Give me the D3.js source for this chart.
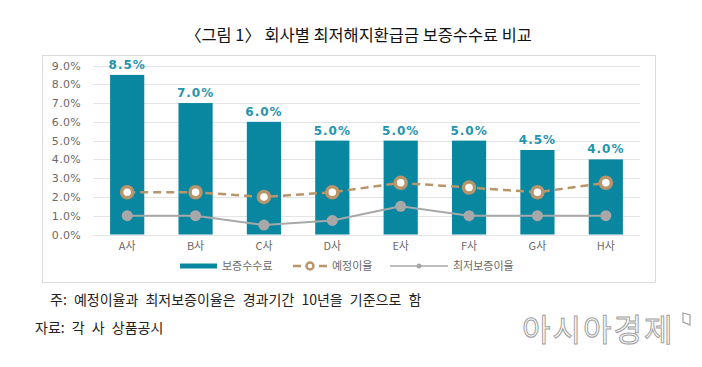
<!DOCTYPE html>
<html><head><meta charset="utf-8">
<script src="https://cdn.jsdelivr.net/npm/d3@7"></script>
<style>
body{margin:0;background:#fff;}
svg{display:block;}
</style></head>
<body><svg id="c" width="702" height="367"></svg>
<script>
const categories = ["A사","B사","C사","D사","E사","F사","G사","H사"];
const feeValues = [8.5, 7.0, 6.0, 5.0, 5.0, 5.0, 4.5, 4.0];
const expectedRate = [2.25, 2.25, 2.0, 2.25, 2.75, 2.5, 2.25, 2.75];
const minGuaranteeRate = [1.0, 1.0, 0.5, 0.75, 1.5, 1.0, 1.0, 1.0];
const yTicks = [0,1,2,3,4,5,6,7,8,9];
const seriesNames = ["보증수수료","예정이율","최저보증이율"];
const title = "〈그림 1〉 회사별 최저해지환급금 보증수수료 비교";
const note1 = "주: 예정이율과 최저보증이율은 경과기간 10년을 기준으로 함";
const note2 = "자료: 각 사 상품공시";
const watermark = "아시아경제";

const KR = "'Noto Sans CJK KR','Noto Sans',sans-serif";
const NUM = "'DejaVu Sans',sans-serif";
const teal = "#0a87a0", tan = "#b8956b", gray = "#a8a8a8";

const svg = d3.select("#c");
const x = d3.scaleBand().domain(categories).range([93, 640]).paddingInner(0.5).paddingOuter(0.25);
const y = d3.scaleLinear().domain([0, 9]).range([234.5, 65.5]);

// title
svg.append("text").attr("x", 358.5).attr("y", 41).attr("text-anchor","middle")
  .attr("font-family", KR).attr("font-size", 16.4).attr("fill","#111").text(title);

// frame
svg.append("rect").attr("x",42.5).attr("y",55.5).attr("width",613).attr("height",227)
  .attr("fill","none").attr("stroke","#d9d9d9");

// grid
svg.append("g").selectAll("line").data(yTicks).join("line")
  .attr("x1",93).attr("x2",640).attr("y1",d=>Math.round(y(d))+0.5).attr("y2",d=>Math.round(y(d))+0.5)
  .attr("stroke","#e3e3e3").attr("stroke-width",1);

// y axis
const yAxis = d3.axisLeft(y).tickValues(yTicks).tickFormat(d=>d.toFixed(1)+"%").tickSize(0).tickPadding(0);
const ya = svg.append("g").attr("transform","translate(81,0)").call(yAxis);
ya.select(".domain").remove();
ya.selectAll("text").attr("font-family",NUM).attr("font-size",11).attr("fill","#6a6a6a").attr("letter-spacing","0.3");

// x axis
const xAxis = d3.axisBottom(x).tickSize(0).tickPadding(0);
const xa = svg.append("g").attr("transform","translate(0,242)").call(xAxis);
xa.select(".domain").remove();
xa.selectAll("text").attr("font-family",KR).attr("font-size",11).attr("fill","#6a6a6a");

// bars
svg.append("g").selectAll("rect").data(feeValues).join("rect")
  .attr("x",(d,i)=>x(categories[i])).attr("width",x.bandwidth())
  .attr("y",d=>y(d)).attr("height",d=>y(0)-y(d)).attr("fill",teal);

// bar labels
svg.append("g").selectAll("text").data(feeValues).join("text")
  .attr("x",(d,i)=>x(categories[i])+x.bandwidth()/2).attr("y",d=>y(d)-6)
  .attr("text-anchor","middle").attr("font-family",NUM).attr("font-size",12).attr("font-weight","bold")
  .attr("letter-spacing","1").attr("fill","#2594ad").text(d=>d.toFixed(1)+"%");

const cx = (d,i)=>x(categories[i])+x.bandwidth()/2;

// min guarantee line
svg.append("path").datum(minGuaranteeRate)
  .attr("d", d3.line().x(cx).y(d=>y(d)))
  .attr("fill","none").attr("stroke",gray).attr("stroke-width",2);
svg.append("g").selectAll("circle").data(minGuaranteeRate).join("circle")
  .attr("cx",cx).attr("cy",d=>y(d)).attr("r",5.5).attr("fill",gray);

// expected rate line
svg.append("path").datum(expectedRate)
  .attr("d", d3.line().x(cx).y(d=>y(d)))
  .attr("fill","none").attr("stroke",tan).attr("stroke-width",2.5).attr("stroke-dasharray","8,5");
svg.append("g").selectAll("circle").data(expectedRate).join("circle")
  .attr("cx",cx).attr("cy",d=>y(d)).attr("r",5.5).attr("fill","#fff").attr("stroke",tan).attr("stroke-width",3.5);

// legend
const ly = 266;
const lg = svg.append("g").attr("font-family",KR).attr("font-size",11).attr("fill","#6a6a6a");
lg.append("rect").attr("x",180).attr("y",ly-2.5).attr("width",37).attr("height",5).attr("fill",teal);
lg.append("text").attr("x",222).attr("y",ly+4).text(seriesNames[0]);
lg.append("line").attr("x1",293).attr("x2",327).attr("y1",ly).attr("y2",ly).attr("stroke",tan).attr("stroke-width",2.5).attr("stroke-dasharray","8,5");
lg.append("circle").attr("cx",310).attr("cy",ly).attr("r",3.5).attr("fill","#fff").attr("stroke",tan).attr("stroke-width",2.5);
lg.append("text").attr("x",332).attr("y",ly+4).text(seriesNames[1]);
lg.append("line").attr("x1",390).attr("x2",448).attr("y1",ly).attr("y2",ly).attr("stroke",gray).attr("stroke-width",1.5);
lg.append("circle").attr("cx",419).attr("cy",ly).attr("r",2.5).attr("fill",gray);
lg.append("text").attr("x",453).attr("y",ly+4).text(seriesNames[2]);

// notes
svg.append("text").attr("x",50).attr("y",305).attr("font-family",KR).attr("font-size",14).attr("word-spacing","4").attr("fill","#222").text(note1);
svg.append("text").attr("x",35).attr("y",333).attr("font-family",KR).attr("font-size",14).attr("word-spacing","4").attr("fill","#222").text(note2);

// watermark
svg.append("text").attr("x",522).attr("y",341).attr("font-family",KR).attr("font-size",31)
  .attr("fill","#fff").attr("stroke","#a0a0a0").attr("stroke-width",1).attr("letter-spacing","2").text(watermark);
svg.append("path").attr("d","M683,313 L690,315 L690,325 L683,322 Z").attr("fill","#fff").attr("stroke","#a0a0a0").attr("stroke-width",1.2);
</script></body></html>
